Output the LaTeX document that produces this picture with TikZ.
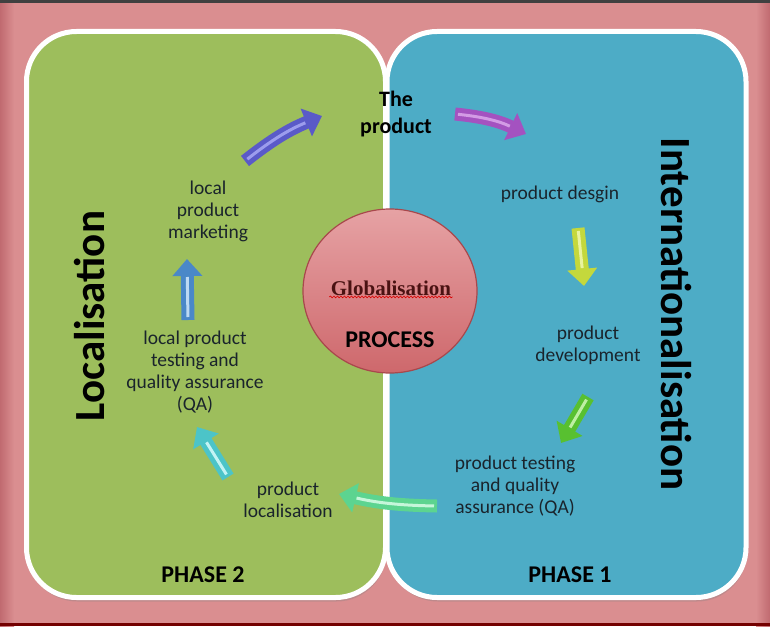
\documentclass[tikz,border=0pt]{standalone}
\usepackage{fontspec}
\setmainfont{Carlito}
\newfontfamily\serifb{Liberation Serif}
\usetikzlibrary{arrows.meta,decorations.pathmorphing,shadows,shapes.geometric}
\definecolor{bgpink}{HTML}{DA8E90}
\definecolor{bgdark}{HTML}{C06A70}
\definecolor{panelgreen}{HTML}{9DBE5C}
\definecolor{panelblue}{HTML}{4DACC6}
\definecolor{txt}{HTML}{1A242C}
\definecolor{globtxt}{HTML}{4A1212}
\definecolor{gtop}{HTML}{E6A2A4}
\definecolor{gmid}{HTML}{D97A7E}
\definecolor{gbot}{HTML}{CE686C}
\definecolor{gedge}{HTML}{A8484C}
\definecolor{cA}{HTML}{5A5AC8}\definecolor{hA}{HTML}{A8A8F4}
\definecolor{cB}{HTML}{A452C0}\definecolor{hB}{HTML}{DCA8EC}
\definecolor{cC}{HTML}{C4D83C}\definecolor{hC}{HTML}{F0F8B0}
\definecolor{cD}{HTML}{58C030}\definecolor{hD}{HTML}{D0F8B8}
\definecolor{cE}{HTML}{5CD490}\definecolor{hE}{HTML}{D8FCE8}
\definecolor{cF}{HTML}{4CC4C8}\definecolor{hF}{HTML}{D8FCFC}
\definecolor{cG}{HTML}{4A88C8}\definecolor{hG}{HTML}{D0E8FC}
\tikzset{
  panel/.style={draw=white, line width=5pt, rounded corners=50pt, minimum width=359pt, minimum height=566pt,
    drop shadow={opacity=.3, shadow xshift=1pt, shadow yshift=-4pt}},
  body/.style={text=txt, align=center, font=\fontsize{19.5}{22}\selectfont},
  bold/.style={text=black, align=center, font=\bfseries\fontsize{22}{27}\selectfont},
  phase/.style={text=black, font=\bfseries\fontsize{24}{28}\selectfont},
  big/.style={text=black, font=\bfseries\fontsize{43}{48}\selectfont},
  fatarr/.style={line width=13pt, draw=#1, -{Triangle[length=17pt,width=29pt,fill=#1]}},
  fathl/.style={line width=3pt, draw=#1, shorten >=18pt, shorten <=3pt, opacity=.85},
}
\begin{document}
\begin{tikzpicture}[x=1pt,y=-1pt]
\useasboundingbox (0,0) rectangle (770,626);
% background
\fill[bgpink] (0,0) rectangle (770,626);
\shade[left color=bgdark, right color=bgpink] (0,0) rectangle (14,626);
\shade[left color=bgpink, right color=bgdark] (756,0) rectangle (770,626);
\fill[black!75] (0,0) rectangle (770,3);
\fill[red!45!black] (0,623) rectangle (770,626);
% panels
\node[panel, fill=panelgreen] (left) at (206,314.5) {};
\node[panel, fill=panelblue] (right) at (566.5,314.5) {};
% central globe
\node[ellipse, minimum width=174pt, minimum height=164pt, draw=gedge, line width=1.2pt,
  top color=gtop, middle color=gmid, bottom color=gbot] (globe) at (390,291) {};
\node[text=globtxt, font=\serifb\bfseries\fontsize{21}{24}\selectfont] (glob) at (391,288) {Globalisation};
\draw[red!85!black, line width=0.6pt, decorate, decoration={snake, amplitude=0.9pt, segment length=3.5pt}]
  ([xshift=2pt,yshift=2pt]glob.south west) -- ([xshift=-2pt,yshift=2pt]glob.south east);
\node[phase] (proc) at (390,340) {PROCESS};
% titles
\node[bold] (prod) at (396,114) {The\\product};
\node[big, rotate=90] (loc) at (90,316) {Localisation};
\node[big, rotate=-90] (intl) at (676,314) {Internationalisation};
\node[phase] (ph2) at (203,575) {PHASE 2};
\node[phase] (ph1) at (570,575) {PHASE 1};
% step texts
\node[body] (design) at (560,194) {product desgin};
\node[body] (devel) at (588,345) {product\\development};
\node[body] (testqa) at (515,486) {product testing\\and quality\\assurance (QA)};
\node[body] (plocal) at (288,500) {product\\localisation};
\node[body] (lqa) at (195,372) {local product\\testing and\\quality assurance\\(QA)};
\node[body] (lmark) at (208,211) {local\\product\\marketing};
% arrow coordinates
\coordinate (a1s) at (245,161); \coordinate (a1e) at (322,116);
\coordinate (a2s) at (455,114); \coordinate (a2e) at (526,134);
\coordinate (a3s) at (578,228); \coordinate (a3e) at (584,286);
\coordinate (a4s) at (588,397); \coordinate (a4e) at (561,443);
\coordinate (a5s) at (437,506); \coordinate (a5e) at (339,494);
\coordinate (a6s) at (228,477); \coordinate (a6e) at (197,427);
\coordinate (a7s) at (188,320); \coordinate (a7e) at (187,259);
% arrows
\draw[fatarr=cA] (a1s) to[bend left=8] (a1e);
\draw[fathl=hA] (a1s) to[bend left=8] (a1e);
\draw[fatarr=cB] (a2s) to[bend left=10] (a2e);
\draw[fathl=hB] (a2s) to[bend left=10] (a2e);
\draw[fatarr=cC] (a3s) -- (a3e);
\draw[fathl=hC] (a3s) -- (a3e);
\draw[fatarr=cD] (a4s) -- (a4e);
\draw[fathl=hD] (a4s) -- (a4e);
\draw[fatarr=cE] (a5s) to[bend left=6] (a5e);
\draw[fathl=hE] (a5s) to[bend left=6] (a5e);
\draw[fatarr=cF] (a6s) -- (a6e);
\draw[fathl=hF] (a6s) -- (a6e);
\draw[fatarr=cG] (a7s) -- (a7e);
\draw[fathl=hG] (a7s) -- (a7e);
\end{tikzpicture}
\end{document}
